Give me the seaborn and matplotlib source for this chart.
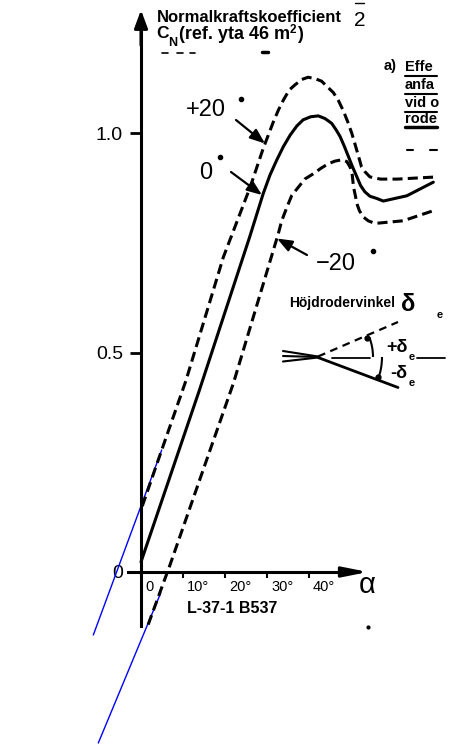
import numpy as np
import pandas as pd
import matplotlib
matplotlib.use("Agg")
import matplotlib.pyplot as plt
import matplotlib.transforms as mtransforms
from matplotlib.patches import Arc
import seaborn as sns

# ---------------- data ----------------
alpha_p20 = [0.3, 4.9, 10.7, 19.6, 26.0, 29.1, 30.3, 31.5, 32.7, 33.9, 35.3, 36.7, 38.3,
             39.8, 41.4, 43.0, 44.4, 45.8, 47.0, 48.2, 49.2, 50.2, 51.0, 51.7, 52.5, 53.3,
             54.5, 57.0, 61.0, 70.5]
cn_p20 = [0.150, 0.277, 0.436, 0.717, 0.877, 0.965, 0.995, 1.025, 1.052, 1.075, 1.098, 1.110,
          1.122, 1.127, 1.124, 1.118, 1.105, 1.092, 1.074, 1.050, 1.026, 0.999, 0.973, 0.950,
          0.923, 0.912, 0.900, 0.895, 0.895, 0.900]

alpha_0 = [0.0, 13.9, 25.9, 29.1, 30.7, 32.3, 33.9, 35.5, 37.1, 38.6, 40.4, 42.2, 43.8,
           45.4, 46.4, 47.4, 48.4, 49.4, 50.4, 51.4, 52.3, 53.3, 54.5, 56.1, 57.7, 63.3, 69.6]
cn_0 = [0.023, 0.414, 0.764, 0.862, 0.904, 0.938, 0.969, 0.995, 1.016, 1.030, 1.037, 1.039,
        1.033, 1.022, 1.008, 0.992, 0.970, 0.946, 0.922, 0.900, 0.880, 0.866, 0.856, 0.851,
        0.845, 0.857, 0.888]

alpha_m20 = [1.7, 6.9, 22.0, 29.1, 32.7, 33.5, 34.7, 35.9, 37.5, 39.0, 41.0, 42.9, 44.6,
             46.2, 47.8, 49.0, 49.8, 50.3, 50.6, 51.0, 51.4, 52.0, 52.9, 54.1, 55.7, 62.4, 69.6]
cn_m20 = [-0.120, 0.016, 0.430, 0.656, 0.771, 0.800, 0.830, 0.858, 0.877, 0.895, 0.907, 0.920,
          0.930, 0.936, 0.939, 0.935, 0.922, 0.904, 0.877, 0.859, 0.839, 0.823, 0.809, 0.800,
          0.794, 0.800, 0.823]

series_labels = ["+20°", "0°", "-20°"]
x_ticks = [0, 10, 20, 30, 40]
x_ticklabels = ["0", "10°", "20°", "30°", "40°"]
y_ticks = [0.0, 0.5, 1.0]
y_ticklabels = ["0", "0.5", "1.0"]

# ---------------- figure ----------------
sns.set_theme(style="white")
plt.rcParams['font.family'] = ['Liberation Sans', 'DejaVu Sans']

W, H = 450, 750
fig = plt.figure(figsize=(4.5, 7.5), dpi=100)
fig.patch.set_facecolor("white")
ax = fig.add_axes([0, 0, 1, 1])
ax.set_facecolor("none")

X0, PXDEG = 141.0, 4.2     # pixel of alpha=0, pixels per degree
Y0, PXCN = 572.0, 439.0    # pixel of CN=0, pixels per unit CN

# pixel transform (origin top-left) for decorations
pix = mtransforms.Affine2D().scale(1.0 / W, -1.0 / H).translate(0, 1) + fig.transFigure

df = pd.concat([
    pd.DataFrame({"alpha": alpha_p20, "cn": cn_p20, "delta": series_labels[0]}),
    pd.DataFrame({"alpha": alpha_0, "cn": cn_0, "delta": series_labels[1]}),
    pd.DataFrame({"alpha": alpha_m20, "cn": cn_m20, "delta": series_labels[2]}),
], ignore_index=True)

sns.lineplot(data=df, x="alpha", y="cn", hue="delta", style="delta",
             palette={s: "black" for s in series_labels},
             dashes={series_labels[0]: (3.3, 1.7), series_labels[1]: "",
                     series_labels[2]: (3.3, 1.7)},
             sort=False, estimator=None, linewidth=2.2, legend=False, ax=ax, zorder=5)
for ln in ax.get_lines():
    ln.set_solid_joinstyle("round")
    ln.set_dash_joinstyle("round")

ax.set_xlim((0 - X0) / PXDEG, (W - X0) / PXDEG)
ax.set_ylim((Y0 - H) / PXCN, Y0 / PXCN)
ax.set_xlabel("")
ax.set_ylabel("")

# axes spines through the origin
for s in ["top", "right"]:
    ax.spines[s].set_visible(False)
for s in ["left", "bottom"]:
    ax.spines[s].set_visible(True)
    ax.spines[s].set_color("black")
    ax.spines[s].set_linewidth(2.2)
    ax.spines[s].set_position(("data", 0))
ax.spines["left"].set_bounds(-0.123, 1.25)
ax.spines["bottom"].set_bounds(-3.1, 51)

ax.set_yticks(y_ticks)
ax.set_yticklabels(y_ticklabels, fontsize=14)
ax.set_xticks(x_ticks)
ax.set_xticklabels(x_ticklabels, fontsize=10.5)
ax.tick_params(axis="y", direction="out", length=8, width=2, pad=5, colors="black", left=True)
ax.tick_params(axis="x", direction="out", length=4, width=1.5, pad=2, colors="black", bottom=True)
offset = mtransforms.ScaledTranslation(4 / 100, 0, fig.dpi_scale_trans)
for lbl in ax.get_xticklabels():
    lbl.set_ha("left")
    lbl.set_transform(lbl.get_transform() + offset)
ax.grid(False)

# arrow heads of the axes
ax.annotate("", xy=(0, (Y0 - 10) / PXCN), xytext=(0, 1.2),
            arrowprops=dict(arrowstyle="-|>,head_length=1.08,head_width=0.4",
                            color="black", lw=2.2, mutation_scale=10, shrinkA=0, shrinkB=0))
ax.annotate("", xy=((368 - X0) / PXDEG, 0), xytext=(48, 0),
            arrowprops=dict(arrowstyle="-|>,head_length=1.5,head_width=0.3",
                            color="black", lw=2.2, mutation_scale=10, shrinkA=0, shrinkB=0))

fig.canvas.draw()
rend = fig.canvas.get_renderer()


def T(x, y, s, size=10, weight="normal", **kw):
    return ax.text(x, y, s, transform=pix, fontsize=size, fontweight=weight,
                   va=kw.pop("va", "baseline"), ha=kw.pop("ha", "left"), color="black", **kw)


def chain(x, y, parts, weight="bold"):
    for s, size, dy in parts:
        t = T(x, y + dy, s, size, weight)
        x += t.get_window_extent(renderer=rend).width


def L(xs, ys, lw=1.5, color="black", **kw):
    ax.plot(xs, ys, transform=pix, color=color, lw=lw, clip_on=False, **kw)


# title texts
T(157, 22, "Normalkraftskoefficient", 12, "bold")
T(354, 26, "2", 15)
L((355, 364), (3, 3), lw=1.0)
T(156, 38, "C", 12.5, "bold")
T(168.5, 46, "N", 9, "bold")
chain(179, 39, [("(ref. yta 46 m", 13, 0), ("2", 8.5, -6), (")", 13, 0)])
for xs in [(162, 168), (177, 183), (190, 195)]:
    L(xs, (53, 53), lw=1.2)
L((262, 268), (52, 52), lw=2.5)

# right-hand caption (cut by the edge of the scan)
T(384, 70, "a)", 10.5, "bold")
caption = ["Effe", "anfa", "vid o", "rode"]
base = [71, 89, 107, 123]
for s, b in zip(caption, base):
    T(405, b, s, 10.5, "bold")
for b, lw in zip([76, 93.5, 111.5, 127], [1.5, 1.5, 1.5, 2.5]):
    L((405, 437), (b, b), lw=lw)
L((407, 413), (150, 150), lw=1.5)
L((430, 437), (150, 150), lw=1.5)

# curve labels with arrows
T(186, 116, "+20", 17)
L([241], [99], lw=0, marker="o", ms=3)
ax.annotate("", xy=(265, 143.5), xytext=(236, 120), xycoords=pix, textcoords=pix,
            arrowprops=dict(arrowstyle="-|>,head_length=0.9,head_width=0.35", color="black",
                            lw=1.6, mutation_scale=10, shrinkA=0, shrinkB=0))
T(199, 179, "0", 17)
L([220], [157], lw=0, marker="o", ms=3)
ax.annotate("", xy=(262, 195), xytext=(231, 172), xycoords=pix, textcoords=pix,
            arrowprops=dict(arrowstyle="-|>,head_length=0.9,head_width=0.35", color="black",
                            lw=1.6, mutation_scale=10, shrinkA=0, shrinkB=0))
T(316, 270, "\u221220", 17)
L([373], [251], lw=0, marker="o", ms=3)
ax.annotate("", xy=(277, 238.5), xytext=(307, 255), xycoords=pix, textcoords=pix,
            arrowprops=dict(arrowstyle="-|>,head_length=0.9,head_width=0.35", color="black",
                            lw=1.6, mutation_scale=10, shrinkA=0, shrinkB=0))

# axis letter and reference code
T(359, 593, "α", 21)
T(187, 613, "L-37-1 B537", 11.5, "bold")
L([368], [627], lw=0, marker="o", ms=2)

# inset: elevator deflection sketch
T(289, 307, "Höjdrodervinkel", 10, "bold")
T(401, 311, "δ", 17, "bold")
T(437, 318, "e", 8, "bold")
L((283, 318), (351, 356.5), lw=1.5)
L((283, 318), (356, 357), lw=1.5)
L((283, 318), (361.5, 357.5), lw=1.5)
L((318, 398), (356.5, 322), lw=1.6, ls=(0, (3.5, 2.5)))
L((318, 398), (357.5, 387.5), lw=2.0)
L((332, 370), (357.5, 357.5), lw=1.3)
L((417, 445), (357.5, 357.5), lw=1.3)
ax.add_patch(Arc((318, 357), 110, 110, theta1=-21, theta2=0, transform=pix,
                 color="black", lw=1.5, clip_on=False))
ax.add_patch(Arc((318, 357), 128, 128, theta1=0, theta2=21, transform=pix,
                 color="black", lw=1.5, clip_on=False))
L([367], [337.5], lw=0, marker="o", ms=3.5)
L([378], [377], lw=0, marker="o", ms=3.5)
T(386, 352, "+δ", 13, "bold")
T(409, 360, "e", 8, "bold")
T(390, 378, "-δ", 13, "bold")
T(409, 386, "e", 8, "bold")

# thin blue extension lines
L((161.7, 93.3), (450, 635), lw=1.0, color="#0000ff")
L((160.7, 98.3), (593, 743), lw=1.0, color="#0000ff")

fig.savefig("out.png", dpi=100, facecolor="white")
